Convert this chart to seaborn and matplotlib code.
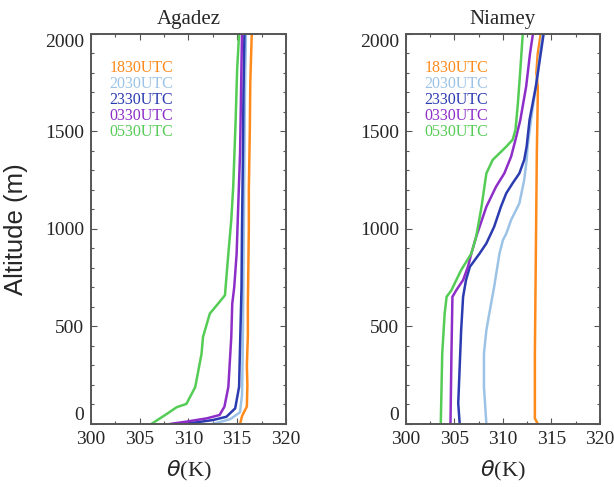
import numpy as np
import pandas as pd
import matplotlib
matplotlib.use("Agg")
import matplotlib.pyplot as plt
import seaborn as sns
from matplotlib.ticker import MultipleLocator

# ---------------- data ----------------
times = ["1830UTC", "2030UTC", "2330UTC", "0330UTC", "0530UTC"]
colors = ["#ff8a1c", "#9cc3e6", "#2b3bb0", "#8e2ec8", "#55cc55"]

# Agadez profiles: altitude (m) and potential temperature (K)
ag_1830_z = [0, 40, 90, 200, 300, 450, 600, 800, 1000, 1200, 1500, 1750, 2000]
ag_1830_t = [315.3, 315.5, 316.0, 316.05, 316.0, 316.1, 316.1, 316.15, 316.2, 316.2, 316.3, 316.35, 316.5]
ag_2030_z = [0, 25, 60, 150, 300, 500, 800, 1100, 1400, 1700, 2000]
ag_2030_t = [312.5, 314.3, 315.3, 315.5, 315.55, 315.6, 315.65, 315.7, 315.75, 315.8, 315.9]
ag_2330_z = [0, 20, 37, 80, 190, 400, 700, 1000, 1400, 1700, 2000]
ag_2330_t = [309.6, 312.5, 313.9, 314.8, 315.2, 315.3, 315.45, 315.5, 315.6, 315.65, 315.75]
ag_0330_z = [0, 12, 29, 46, 89, 190, 446, 617, 700, 874, 1100, 1388, 1700, 2000]
ag_0330_t = [308.1, 309.8, 311.9, 313.2, 313.7, 314.1, 314.4, 314.5, 314.7, 314.95, 315.1, 315.3, 315.4, 315.5]
ag_0530_z = [0, 52, 86, 103, 189, 360, 446, 566, 617, 660, 874, 1046, 1217, 1560, 1817, 2000]
ag_0530_t = [306.2, 307.8, 308.8, 309.8, 310.7, 311.35, 311.5, 312.2, 313.05, 313.75, 314.1, 314.4, 314.6, 314.85, 315.0, 315.2]

# Niamey profiles
ni_1830_z = [0, 29, 361, 874, 1388, 1679, 1730, 1800, 1900, 2000]
ni_1830_t = [313.6, 313.3, 313.3, 313.4, 313.5, 313.6, 313.6, 313.45, 313.6, 313.9]
ni_2030_z = [0, 190, 361, 481, 566, 703, 874, 942, 976, 1046, 1131, 1251, 1354, 1422, 1559, 1730, 2000]
ni_2030_t = [308.3, 308.05, 308.05, 308.3, 308.6, 309.1, 309.65, 310.0, 310.35, 310.85, 311.7, 312.2, 312.45, 312.55, 312.9, 313.4, 314.1]
ni_2330_z = [0, 106, 481, 652, 738, 806, 840, 874, 926, 1011, 1114, 1183, 1234, 1285, 1354, 1422, 1559, 1730, 2000]
ni_2330_t = [305.55, 305.4, 305.7, 305.9, 306.2, 306.6, 307.1, 307.6, 308.3, 309.1, 309.8, 310.35, 311.0, 311.7, 312.2, 312.45, 312.75, 313.4, 314.2]
ni_0330_z = [0, 361, 652, 686, 738, 806, 874, 960, 1114, 1217, 1285, 1371, 1457, 1559, 1730, 1900, 2000]
ni_0330_t = [304.6, 304.7, 304.8, 305.2, 305.9, 306.4, 306.75, 307.25, 308.3, 309.3, 310.15, 310.85, 311.3, 311.8, 312.4, 312.8, 313.1]
ni_0530_z = [0, 361, 566, 652, 686, 738, 789, 874, 960, 1114, 1285, 1354, 1422, 1457, 1508, 1645, 1816, 2000]
ni_0530_t = [303.6, 303.75, 304.0, 304.2, 304.7, 305.2, 305.7, 306.75, 307.25, 307.8, 308.3, 308.95, 310.35, 311.0, 311.3, 311.55, 311.8, 312.05]

stations = ["Agadez", "Niamey"]
x_ticks = [300, 305, 310, 315, 320]
y_ticks = [0, 500, 1000, 1500, 2000]

profiles = {
    "Agadez": [(ag_1830_z, ag_1830_t), (ag_2030_z, ag_2030_t), (ag_2330_z, ag_2330_t),
               (ag_0330_z, ag_0330_t), (ag_0530_z, ag_0530_t)],
    "Niamey": [(ni_1830_z, ni_1830_t), (ni_2030_z, ni_2030_t), (ni_2330_z, ni_2330_t),
               (ni_0330_z, ni_0330_t), (ni_0530_z, ni_0530_t)],
}

# ---------------- style ----------------
sns.set_theme(style="ticks")
plt.rcParams["font.family"] = ["Liberation Serif", "DejaVu Serif"]
plt.rcParams["mathtext.fontset"] = "dejavusans"

fig = plt.figure(figsize=(6.14, 4.87), dpi=100)
ax_pos = [[0.148, 0.1294, 0.3176, 0.801], [0.661, 0.1294, 0.316, 0.801]]

spine_col = "#555555"
for i, st in enumerate(stations):
    ax = fig.add_axes(ax_pos[i])
    rows = []
    for t, (z, th) in zip(times, profiles[st]):
        for zz, tt in zip(z, th):
            rows.append({"time": t, "alt": zz, "theta": tt})
    df = pd.DataFrame(rows)
    sns.lineplot(data=df, x="theta", y="alt", hue="time", hue_order=times,
                 palette=colors, sort=False, estimator=None, orient="y",
                 linewidth=1.8, legend=False, ax=ax)
    ax.set_xlim(300, 320)
    ax.set_ylim(0, 2000)
    ax.set_xticks(x_ticks)
    ax.set_yticks(y_ticks)
    ax.xaxis.set_minor_locator(MultipleLocator(2.5))
    ax.yaxis.set_minor_locator(MultipleLocator(100))
    ax.tick_params(which="both", direction="in", top=True, right=True,
                   color=spine_col, labelsize=14)
    ax.tick_params(which="major", length=4, width=0.8)
    ax.tick_params(which="minor", length=2.5, width=0.8)
    ax.tick_params(axis="x", pad=5)
    ax.tick_params(axis="y", pad=5)
    for s in ax.spines.values():
        s.set_color(spine_col)
        s.set_linewidth(1.4)
    yt = ax.yaxis.get_major_ticks()
    yt[0].label1.set_verticalalignment("bottom")
    yt[-1].label1.set_verticalalignment("top")
    ax.set_title(st, fontsize=15, pad=7)
    ax.set_xlabel(r"$\theta$(K)", fontsize=16, labelpad=8)
    if i == 0:
        ax.set_ylabel("Altitude (m)", fontsize=18.5, family="Liberation Sans", labelpad=12)
    else:
        ax.set_ylabel("")
    for k, (t, c) in enumerate(zip(times, colors)):
        ax.text(0.095, 0.912 - k * 0.041, t, color=c, fontsize=11.5,
                transform=ax.transAxes, ha="left", va="center")

fig.savefig("out.png", dpi=100)
